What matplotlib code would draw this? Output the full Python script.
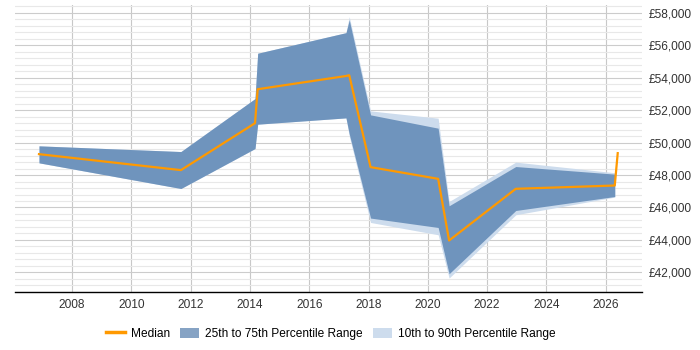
import numpy as np
import matplotlib
matplotlib.use('Agg')
import matplotlib.pyplot as plt
from matplotlib.ticker import FuncFormatter, MultipleLocator
from matplotlib.patches import Patch
from matplotlib.lines import Line2D

plt.rcParams['font.family'] = ['Liberation Sans', 'DejaVu Sans']

# median line points (year, salary)
years = [2006.88, 2011.67, 2014.17, 2014.26, 2017.24, 2017.35, 2018.07,
         2020.35, 2020.72, 2022.97, 2026.31, 2026.41]
median = [49286, 48302, 51194, 53286, 54100, 54148, 48486,
          47766, 43969, 47151, 47354, 49348]

# percentile bands stop at the second-last point
band_years = years[:-1]
p25 = [48751, 47169, 49631, 51132, 51520, 50535, 45348, 44769, 41920, 45815, 46677]
p75 = [49797, 49446, 52708, 55502, 56769, 57550, 51705, 50886, 46105, 48523, 48055]
p10 = [48751, 47169, 49631, 51132, 51520, 50400, 45077, 44320, 41655, 45551, 46640]
p90 = [49797, 49446, 52708, 55502, 56769, 57750, 51950, 51502, 46369, 48794, 48140]

dark = '#6f94bd'
light = '#cddced'
orange = '#ff9900'

fig = plt.figure(figsize=(7, 3.5), dpi=100)
ax = fig.add_axes([0.0214, 0.166, 0.8962, 0.82])

ax.fill_between(band_years, p10, p90, color=light, lw=0, zorder=2)
ax.fill_between(band_years, p25, p75, color=dark, lw=0, zorder=3)
ax.plot(years, median, color=orange, lw=1.6, zorder=4)

ax.set_xlim(2006.07, 2027.24)
ax.set_ylim(40800, 58480)
ax.xaxis.set_major_locator(MultipleLocator(2))
ax.yaxis.set_major_locator(MultipleLocator(2000))
ax.yaxis.set_minor_locator(MultipleLocator(400))
ax.yaxis.set_major_formatter(FuncFormatter(lambda v, p: '£{:,.0f}'.format(v)))

ax.grid(axis='x', which='major', color='#c8c8c8', lw=0.8, zorder=0)
ax.grid(axis='y', which='major', color='#cccccc', lw=0.8, zorder=0)
ax.grid(axis='y', which='minor', color='#e8e8e8', lw=0.8, zorder=0)

ax.yaxis.tick_right()
ax.tick_params(axis='both', which='both', length=0, labelsize=8.6, colors='#333333')
ax.tick_params(axis='y', pad=4.5)
ax.tick_params(axis='x', pad=5)
for s in ['left', 'right', 'top']:
    ax.spines[s].set_visible(False)
ax.spines['bottom'].set_color('#000000')
ax.spines['bottom'].set_linewidth(1)

handles = [Line2D([], [], color=orange, lw=2.5),
           Patch(facecolor='#86a3c4', edgecolor='none'),
           Patch(facecolor=light, edgecolor='none')]
labels = ['Median', '25th to 75th Percentile Range', '10th to 90th Percentile Range']
fig.legend(handles, labels, loc='center', bbox_to_anchor=(0.4724, 0.046), ncol=3,
           frameon=False, fontsize=8.6, handlelength=1.6, handleheight=1.0,
           columnspacing=0.87, handletextpad=0.47)

fig.savefig('out.png', dpi=100)
